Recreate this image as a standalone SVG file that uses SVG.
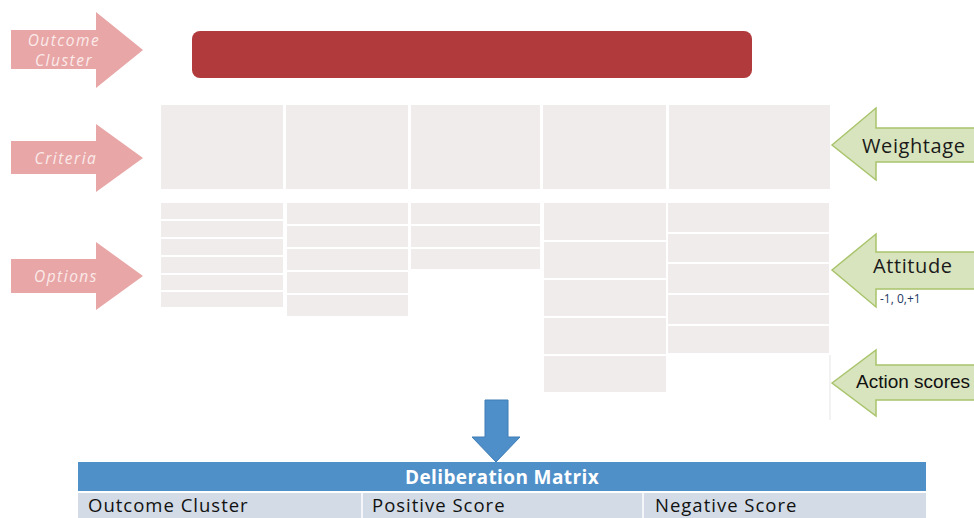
<svg xmlns="http://www.w3.org/2000/svg" width="974" height="518" viewBox="0 0 974 518">
<style>
.pink{fill:#e8a6a6}
.ptxt{font-family:"Open Sans",Lato,sans-serif;font-style:italic;font-size:15.5px;letter-spacing:1.5px;fill:#fbeaea;text-anchor:middle}
.cell{fill:#efeceb}
.green{fill:#d8e4bd;stroke:#a9c46c;stroke-width:1.5}
.gtxt{font-family:"Open Sans",Lato,sans-serif;font-size:20px;fill:#1a1a1a}
.hdr{font-family:"Open Sans",Lato,sans-serif;font-weight:bold;font-size:19px;letter-spacing:0.4px;fill:#ffffff;text-anchor:middle}
.rtxt{font-family:"Open Sans",Lato,sans-serif;font-size:18.5px;letter-spacing:1px;fill:#111}
</style>
<rect width="974" height="518" fill="#ffffff"/>

<g id="outcome-arrow">
<polygon class="pink" points="11,30 96,30 96,12 143,50 96,88 96,69 11,69"/>
<text class="ptxt" x="64" y="46">Outcome</text>
<text class="ptxt" x="64" y="66">Cluster</text>
</g>
<g id="criteria-arrow">
<polygon class="pink" points="11,141 96,141 96,124 143,158 96,192 96,174 11,174"/>
<text class="ptxt" x="66" y="164">Criteria</text>
</g>
<g id="options-arrow">
<polygon class="pink" points="11,259 96,259 96,242 143,276 96,310 96,293 11,293"/>
<text class="ptxt" x="66" y="282">Options</text>
</g>

<g id="outcome-bar">
<rect x="192" y="31" width="560" height="47" rx="8" fill="#b13b3c"/>
</g>

<g id="criteria">
<rect class="cell" x="161" y="105" width="122" height="84"/>
<rect class="cell" x="286" y="105" width="122" height="84"/>
<rect class="cell" x="411" y="105" width="129" height="84"/>
<rect class="cell" x="543" y="105" width="123" height="84"/>
<rect class="cell" x="669" y="105" width="161" height="84"/>
</g>

<g id="options">
<g id="options-col1">
<rect class="cell" x="161" y="203" width="122" height="16"/>
<rect class="cell" x="161" y="221" width="122" height="16"/>
<rect class="cell" x="161" y="239" width="122" height="16"/>
<rect class="cell" x="161" y="257" width="122" height="16"/>
<rect class="cell" x="161" y="275" width="122" height="15"/>
<rect class="cell" x="161" y="292" width="122" height="15"/>
</g>
<g id="options-col2">
<rect class="cell" x="287" y="203" width="121" height="21"/>
<rect class="cell" x="287" y="226" width="121" height="21"/>
<rect class="cell" x="287" y="249" width="121" height="21"/>
<rect class="cell" x="287" y="272" width="121" height="21"/>
<rect class="cell" x="287" y="295" width="121" height="21"/>
</g>
<g id="options-col3">
<rect class="cell" x="411" y="203" width="129" height="21"/>
<rect class="cell" x="411" y="226" width="129" height="21"/>
<rect class="cell" x="411" y="249" width="129" height="20"/>
</g>
<g id="options-col4">
<rect class="cell" x="544" y="203" width="122" height="37"/>
<rect class="cell" x="544" y="242" width="122" height="36"/>
<rect class="cell" x="544" y="280" width="122" height="36"/>
<rect class="cell" x="544" y="318" width="122" height="36"/>
<rect class="cell" x="544" y="356" width="122" height="36"/>
</g>
<g id="options-col5">
<rect class="cell" x="668" y="203" width="161" height="29"/>
<rect class="cell" x="668" y="234" width="161" height="28"/>
<rect class="cell" x="668" y="264" width="161" height="29"/>
<rect class="cell" x="668" y="295" width="161" height="29"/>
<rect class="cell" x="668" y="326" width="161" height="27"/>
</g>
<line x1="830" y1="355" x2="830" y2="420" stroke="#eeeeee" stroke-width="1.5"/>
</g>

<g id="weightage-arrow">
<polygon class="green" points="832,145 876,108 876,128 980,128 980,162 876,162 876,180"/>
<text class="gtxt" x="862" y="153" letter-spacing="0.6">Weightage</text>
</g>
<g id="attitude-arrow">
<polygon class="green" points="832,270 876,234 876,252 980,252 980,289 876,289 876,307"/>
<text class="gtxt" x="873" y="273" letter-spacing="0.6">Attitude</text>
<text x="880" y="303" font-family="'Open Sans',Lato,sans-serif" font-size="12" fill="#1f3864">-1, 0,+1</text>
</g>
<g id="action-arrow">
<polygon class="green" points="832,383 876,350 876,365 980,365 980,400 876,400 876,416"/>
<text x="856" y="388" font-family="'Liberation Sans',Arial,sans-serif" font-size="19" fill="#111">Action scores</text>
</g>

<g id="connectors">
<polygon points="485,400 508,400 508,437 520,437 496,462 472,437 485,437" fill="#4e8fc9" stroke="#3f7cb5" stroke-width="1"/>
</g>

<g id="deliberation-matrix">
<rect x="78" y="462" width="848" height="29" fill="#4f90c9"/>
<text class="hdr" x="502" y="484">Deliberation Matrix</text>
<rect x="78" y="493" width="848" height="25" fill="#d3dce6"/>
<line x1="362" y1="493" x2="362" y2="518" stroke="#ffffff" stroke-width="1.5"/>
<line x1="643" y1="493" x2="643" y2="518" stroke="#ffffff" stroke-width="1.5"/>
<text class="rtxt" x="88" y="512">Outcome Cluster</text>
<text class="rtxt" x="372" y="512">Positive Score</text>
<text class="rtxt" x="655" y="512">Negative Score</text>
</g>
</svg>
